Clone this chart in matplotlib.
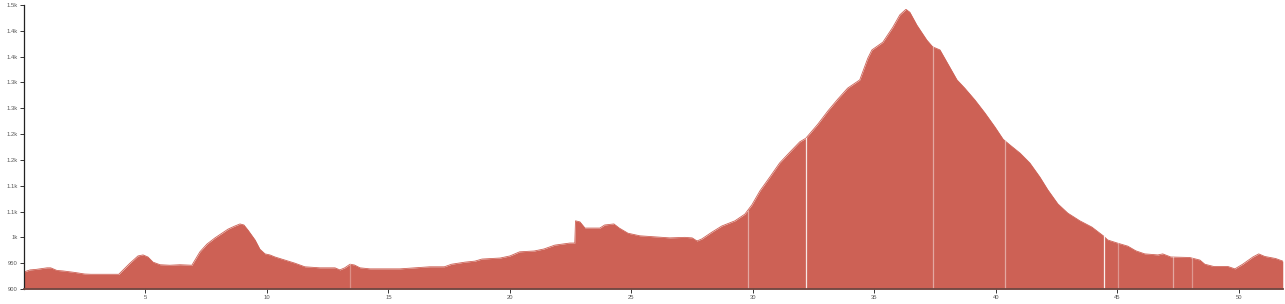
import matplotlib
matplotlib.use("Agg")
import matplotlib.pyplot as plt
from matplotlib.ticker import FuncFormatter, FixedLocator
from decimal import Decimal, ROUND_HALF_UP
import numpy as np

# distance (km) and elevation (m)
km = [0.0, 0.25, 0.5, 0.95, 1.1, 1.35, 1.6, 2.1, 2.5, 2.75, 3.9,
      4.36, 4.69, 4.9, 5.1, 5.31, 5.6, 6.0, 6.42, 6.83,
      6.91, 7.24, 7.53, 7.86, 8.15, 8.4, 8.68, 8.89, 9.05, 9.22, 9.51, 9.71, 9.92,
      10.12, 10.33, 10.74, 11.15, 11.56, 12.18, 12.8, 13.0, 13.2, 13.42, 13.6, 13.83,
      14.24, 15.47, 16.1, 16.7, 17.3, 17.6, 18.15, 18.56, 18.85, 19.6, 20.0, 20.4,
      21.0, 21.4, 21.85, 22.47, 22.67, 22.7, 22.88, 23.09, 23.7, 23.9, 24.28, 24.5,
      24.86, 25.35, 25.97, 26.58, 27.2, 27.5, 27.7, 27.9, 28.31, 28.72, 29.26, 29.67,
      29.96, 30.29, 30.7, 31.1, 31.52, 31.93, 32.18, 32.67, 33.09, 33.5, 33.9, 34.4,
      34.73, 34.9, 35.35, 35.76, 36.05, 36.3, 36.46, 36.75, 37.16, 37.4, 37.7, 38.1,
      38.4, 38.72, 39.14, 39.55, 39.96, 40.3, 40.58, 41.0, 41.4, 41.81, 42.14, 42.55,
      42.96, 43.46, 43.95, 44.28, 44.45, 44.6, 45.0, 45.43, 45.76, 46.13, 46.67, 46.87,
      47.2, 47.98, 48.4, 48.6, 48.97, 49.55, 49.84, 50.16, 50.58, 50.82, 51.07, 51.52,
      51.81]
elev = [933, 937, 938, 941, 941, 936, 935, 932, 929, 928.5, 928.5,
        950, 964, 966, 962, 952, 947, 946, 947, 946,
        946, 972, 987, 999, 1008, 1016, 1022, 1026, 1024, 1014, 995, 977, 968,
        966, 962, 956, 950, 943, 941, 941, 937, 941, 948, 946.5, 941,
        939, 939, 941, 943, 943, 948, 952, 954, 958, 960, 964, 972,
        973.6, 977.5, 985, 989, 989, 1032, 1030, 1018, 1018, 1024, 1026, 1018,
        1008, 1003, 1001, 999, 1000, 999, 993, 997, 1010, 1022, 1032, 1045,
        1063, 1090, 1117, 1144, 1165, 1185, 1192, 1219, 1245, 1268, 1289, 1305,
        1347, 1363, 1378, 1407, 1431, 1441.6, 1436, 1411, 1382, 1369, 1363, 1330,
        1305, 1289, 1266, 1241, 1214, 1190, 1179, 1163, 1144, 1117, 1092, 1065,
        1047, 1032, 1020, 1008, 1002, 995, 989, 983, 974, 968, 966, 968,
        962, 961, 956, 948, 943.6, 943.6, 939, 948, 962, 968, 963, 959,
        954]

# segment boundaries (km) and their brightness
seg_km = [13.42, 29.79, 32.18, 37.41, 40.37, 44.44, 45.02, 47.28, 48.09]
seg_alpha = [0.3, 0.45, 0.85, 0.45, 0.45, 0.9, 0.35, 0.45, 0.35]

x_ticks = [5, 10, 15, 20, 25, 30, 35, 40, 45, 50]
y_ticks = [900, 950, 1000, 1050, 1100, 1150, 1200, 1250, 1300, 1350, 1400, 1450]


def fmt_s(v, pos=None):
    if v < 1000:
        return str(int(round(v)))
    d = (Decimal(int(round(v))) / Decimal(1000)).quantize(Decimal("0.1"), rounding=ROUND_HALF_UP)
    s = str(d)
    if s.endswith(".0"):
        s = s[:-2]
    return s + "k"


W, H = 1285, 304
fig = plt.figure(figsize=(W / 100, H / 100), dpi=100)
fig.patch.set_facecolor("white")
ax = fig.add_axes([24 / W, (304 - 289) / H, (1283 - 24) / W, 284 / H])

fill_color = "#cd6155"
ax.fill_between(km, 900, elev, color=fill_color, linewidth=0)
ax.plot(km, elev, color=fill_color, linewidth=0.6)

xs = np.array(km)
ys = np.array(elev)
for sk, sa in zip(seg_km, seg_alpha):
    top = np.interp(sk, xs, ys)
    ax.plot([sk, sk], [900, top - 0.5], color="white", alpha=sa, linewidth=0.9)

ax.set_xlim(0, 51.82)
ax.set_ylim(900, 1450)
ax.xaxis.set_major_locator(FixedLocator(x_ticks))
ax.yaxis.set_major_locator(FixedLocator(y_ticks))
ax.yaxis.set_major_formatter(FuncFormatter(fmt_s))
ax.xaxis.set_major_formatter(FuncFormatter(lambda v, p: str(int(v))))

for s in ["top", "right"]:
    ax.spines[s].set_visible(False)
ax.spines["left"].set_color("#222222")
ax.spines["left"].set_linewidth(0.9)
ax.spines["bottom"].set_color("#6e4742")
ax.spines["bottom"].set_linewidth(1.3)

ax.tick_params(axis="both", length=3, width=0.7, color="#333333",
               labelsize=4.2, labelcolor="#555555", pad=1.5)
for lbl in ax.get_xticklabels() + ax.get_yticklabels():
    lbl.set_fontfamily("Liberation Sans")
ax.set_facecolor("white")

fig.savefig("out.png", dpi=100, facecolor="white")
